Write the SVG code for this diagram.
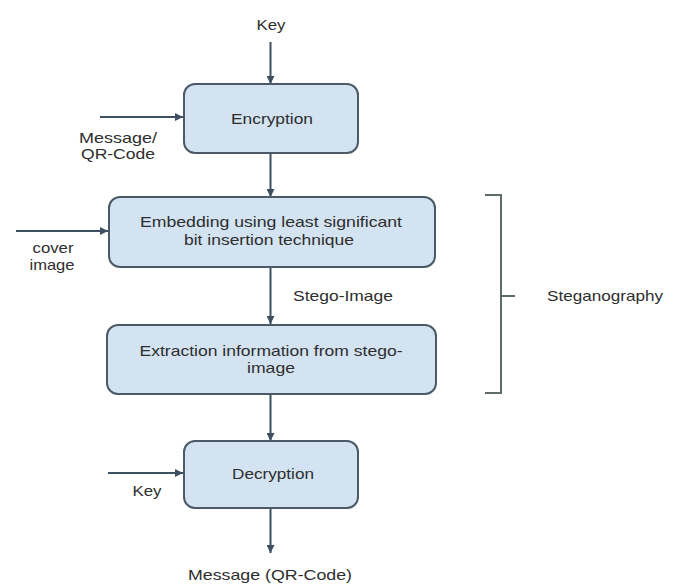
<svg xmlns="http://www.w3.org/2000/svg" width="678" height="584" viewBox="0 0 678 584">
<style>
.box{fill:#d3e3f1;stroke:#4b5a66;stroke-width:2}
.lbl{font-family:"Liberation Sans",Arial,sans-serif;font-size:14.5px;fill:#2e2e2e}
.c{text-anchor:middle}
.edge{stroke:#3d4f60;stroke-width:2;fill:none;marker-end:url(#ah)}
.br{stroke:#5d6b6b;stroke-width:2;fill:none}
</style>
<defs>
<marker id="ah" viewBox="0 0 10 10" refX="10" refY="5" markerWidth="4" markerHeight="4" orient="auto" markerUnits="strokeWidth">
<path d="M0,0 L10,5 L0,10 z" fill="#3d4f60"/>
</marker>
</defs>
<rect width="678" height="584" fill="#ffffff"/>
<g id="connectors">
<line class="edge" x1="270.5" y1="42" x2="270.5" y2="84"/>
<line class="edge" x1="100" y1="117" x2="183" y2="117"/>
<line class="edge" x1="270.5" y1="153" x2="270.5" y2="197"/>
<line class="edge" x1="16" y1="231" x2="108" y2="231"/>
<line class="edge" x1="270.5" y1="267" x2="270.5" y2="324"/>
<line class="edge" x1="270.5" y1="394" x2="270.5" y2="441"/>
<line class="edge" x1="108" y1="473" x2="183" y2="473"/>
<line class="edge" x1="270.5" y1="508" x2="270.5" y2="553"/>
</g>
<g id="key-in">
<text class="lbl c" x="271" y="30" textLength="29" lengthAdjust="spacingAndGlyphs">Key</text>
</g>
<g id="message-in">
<text class="lbl c" x="118" y="143" textLength="78" lengthAdjust="spacingAndGlyphs">Message/</text>
<text class="lbl c" x="118" y="159" textLength="74" lengthAdjust="spacingAndGlyphs">QR-Code</text>
</g>
<g id="encryption">
<rect class="box" x="184" y="84" width="174" height="69" rx="11"/>
<text class="lbl c" x="272" y="124" textLength="82" lengthAdjust="spacingAndGlyphs">Encryption</text>
</g>
<g id="cover-in">
<text class="lbl c" x="53" y="253" textLength="41" lengthAdjust="spacingAndGlyphs">cover</text>
<text class="lbl c" x="52" y="270" textLength="45" lengthAdjust="spacingAndGlyphs">image</text>
</g>
<g id="embedding">
<rect class="box" x="109" y="197" width="326" height="70" rx="11"/>
<text class="lbl c" x="271" y="227" textLength="262" lengthAdjust="spacingAndGlyphs">Embedding using least significant</text>
<text class="lbl c" x="269" y="245" textLength="170" lengthAdjust="spacingAndGlyphs">bit insertion technique</text>
</g>
<g id="stego-label">
<text class="lbl" x="293" y="301" textLength="100" lengthAdjust="spacingAndGlyphs">Stego-Image</text>
</g>
<g id="extraction">
<rect class="box" x="107" y="325" width="329" height="69" rx="11"/>
<text class="lbl c" x="271" y="356" textLength="263" lengthAdjust="spacingAndGlyphs">Extraction information from stego-</text>
<text class="lbl c" x="271" y="373" textLength="48" lengthAdjust="spacingAndGlyphs">image</text>
</g>
<g id="key-in-2">
<text class="lbl c" x="147" y="496" textLength="29" lengthAdjust="spacingAndGlyphs">Key</text>
</g>
<g id="decryption">
<rect class="box" x="184" y="441" width="174" height="67" rx="11"/>
<text class="lbl c" x="273" y="479" textLength="82" lengthAdjust="spacingAndGlyphs">Decryption</text>
</g>
<g id="message-out">
<text class="lbl c" x="270" y="580" textLength="164" lengthAdjust="spacingAndGlyphs">Message (QR-Code)</text>
</g>
<g id="steganography">
<path class="br" d="M485,195 H501 V393 H485 M501,296 H515"/>
<text class="lbl" x="547" y="301" textLength="116" lengthAdjust="spacingAndGlyphs">Steganography</text>
</g>
</svg>
